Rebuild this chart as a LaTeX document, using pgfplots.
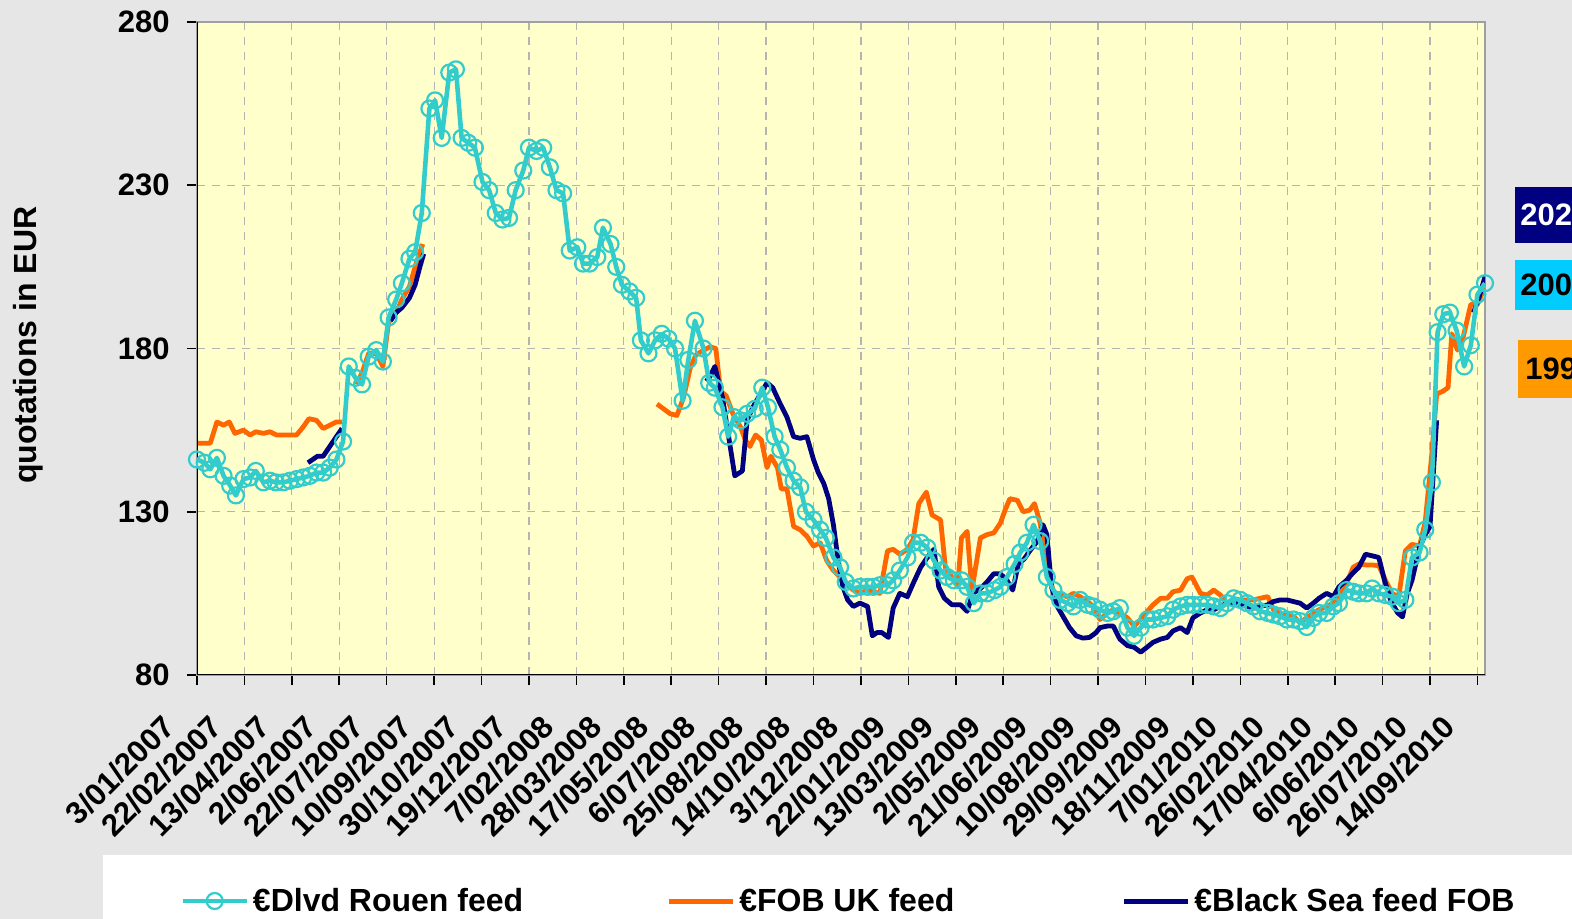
\documentclass[border=0pt]{standalone}
\usepackage{fontspec}
\setmainfont{Liberation Sans}
\usepackage{pgfplots}
\pgfplotsset{compat=1.18}

\definecolor{bggrey}{HTML}{E6E6E6}
\definecolor{plotyellow}{HTML}{FFFFCC}
\definecolor{cyanc}{HTML}{33CCCC}
\definecolor{orangec}{HTML}{FF6600}
\definecolor{navyc}{HTML}{000080}
\definecolor{boxcyan}{HTML}{00CCFF}
\definecolor{boxorange}{HTML}{FF9900}
\definecolor{gridgrey}{HTML}{B4B4B4}

\newcommand\lab{\fontsize{15.5}{18}\selectfont\bfseries}

\begin{document}
\begin{tikzpicture}
\path[use as bounding box] (0,0) rectangle (786pt,459.5pt);
\fill[bggrey] (0,0) rectangle (786pt,459.5pt);
% legend panel
\fill[white] (51.5pt,0) rectangle (800pt,32pt);

\begin{axis}[
    at={(98.5pt,122pt)}, anchor=south west,
    scale only axis, width=644pt, height=326.5pt,
    xmin=0, xmax=1358, ymin=80, ymax=280,
    axis background/.style={fill=plotyellow},
    axis line style={draw=gray!75, line width=1pt},
    xtick={0,50,...,1350},
    xticklabels={3/01/2007,22/02/2007,13/04/2007,2/06/2007,22/07/2007,10/09/2007,30/10/2007,19/12/2007,7/02/2008,28/03/2008,17/05/2008,6/07/2008,25/08/2008,14/10/2008,3/12/2008,22/01/2009,13/03/2009,2/05/2009,21/06/2009,10/08/2009,29/09/2009,18/11/2009,7/01/2010,26/02/2010,17/04/2010,6/06/2010,26/07/2010,14/09/2010},
    ytick={80,130,180,230,280},
    xtick pos=bottom, ytick pos=left,
    tick align=outside, major tick length=5pt,
    tick style={black, line width=0.8pt},
    grid=major,
    major grid style={gridgrey, line width=0.6pt, dash pattern=on 4pt off 3.5pt},
    /pgf/number format/assume math mode=true,
    yticklabel style={font=\lab, inner sep=0pt, anchor=east, xshift=-8.5pt},
    xticklabel style={font=\lab, inner sep=0pt, xshift=-14pt, yshift=-18pt, rotate=45, anchor=east},
    ylabel={quotations in EUR},
    ylabel style={font=\fontsize{16}{19}\selectfont\bfseries, at={(axis description cs:-0.1312,0.505)}, anchor=center},
    unbounded coords=jump,
    legend columns=3,
    legend style={at={(axis description cs:-0.0132,-0.3461)}, anchor=west, draw=none, fill=none,
        inner sep=0pt, font=\fontsize{16}{19}\selectfont\bfseries,
        /tikz/column 2/.append style={column sep=69.5pt},
        /tikz/column 4/.append style={column sep=81.5pt}},
    legend image code/.code={\draw[mark repeat=2,mark phase=2,#1] plot coordinates {(0pt,0pt) (16pt,0pt) (32pt,0pt)};},
  ]

  \addlegendimage{cyanc, line width=2.3pt, mark=o, mark size=4pt, mark options={solid, line width=1.1pt}}
  \addlegendentry{€Dlvd Rouen feed}
  \addlegendimage{orangec, line width=2.5pt}
  \addlegendentry{€FOB UK feed}
  \addlegendimage{navyc, line width=2.5pt}
  \addlegendentry{€Black Sea feed FOB}

  % FOB UK feed
  \addplot[orangec, line width=2.4pt, line join=round, forget plot] coordinates {
(0,151)(8,151)(14,151)(21,157.5)(28,156.5)(34,157.5)(40,154)(49,155)(56,153.5)(62,154.5)(70,154)(77,154.5)(84,153.5)(91,153.5)(98,153.5)(105,153.5)(112,156)(118,158.5)(126,158)(133,155.5)(140,156.5)(147,157.5)(153,157.5)(160,nan)
(168,169)(174,172.5)(181,178.5)(189,178.5)(196,174.5)(202,188)(210,191)(216,195)(224,199)(231,206)(238,212)(245,nan)
(485,163)(492,161.5)(499,160)(506,159.5)(513,165)(520,174)(526,178)(534,179.5)(541,180.5)(547,180)(552,167)(558,165.5)(565,160)(573,156)(578,152)(583,150)(589,153.5)(595,152)(601,143.5)(605,147)(612,143.5)(616,137)(622,137)(629,125.5)(636,124.5)(643,122.5)(650,119.5)(657,120.5)(664,115)(671,112)(678,110)(686,107.5)(692,106)(699,105)(707,106)(713,105.5)(720,105)(728,118)(734,118.5)(741,117)(749,118.5)(755,121.5)(761,132.5)(769,136)(775,129)(784,127.5)(789,113)(798,109)(802,107)(806,122)(812,124)(817,106)(826,122)(833,123)(840,123.5)(847,126.5)(852,130.5)(857,134)(865,133.5)(871,130)(878,130.5)(883,132.5)(889,126.5)(896,113)(903,105.5)(910,104.5)(918,104)(924,105)(931,104)(939,102.5)(945,101)(952,97)(960,99)(966,100)(973,99)(981,97.5)(988,95)(995,97)(1002,99.5)(1008,101.5)(1016,103.5)(1023,103.5)(1029,105.5)(1037,106)(1044,109.5)(1049,110)(1058,105)(1065,104.5)(1072,106)(1079,104.5)(1086,102)(1093,102.5)(1100,103)(1107,103)(1114,103)(1121,103.5)(1129,104)(1135,100)(1142,99)(1149,98)(1156,98)(1163,96)(1170,97.5)(1177,99)(1183,100)(1191,101)(1198,102)(1204,104)(1212,108)(1219,113)(1225,114)(1233,113.7)(1239,113.7)(1246,113.5)(1253,109)(1260,105)(1267,104)(1274,118)(1281,120)(1289,119.5)(1295,127)(1302,148)(1307,166)(1314,167)(1319,168)(1323,184.5)(1329,179.5)(1335,183.5)(1343,193.5)(1350,193.5)(1358,199)
  };

  % Black Sea feed FOB
  \addplot[navyc, line width=2.4pt, line join=round, forget plot] coordinates {
(117,145)(122,146)(127,147)(133,147)(140,150)(147,153)(153,155.5)(160,nan)
(204,188.5)(210,191)(216,192.5)(224,195.5)(230,199.5)(235,205)(239,209)(245,nan)
(537,170)(541,171.5)(546,174.5)(554,165)(560,154)(567,141)(575,142.5)(580,158)(586,162)(594,166)(601,169.5)(607,168)(615,163)(622,159)(629,153)(636,152.5)(643,153)(650,146)(655,142)(661,138.5)(666,134)(671,126)(676,115)(681,107)(686,103)(692,101)(699,102)(707,101)(712,92)(717,93)(722,93)(729,91.5)(734,100.5)(741,105)(749,104)(755,108)(763,113)(770,116)(777,118.5)(782,107)(788,103.5)(796,101.5)(805,101.5)(812,99.5)(818,105)(826,106.5)(833,108.5)(840,111)(847,111)(854,109)(860,106)(866,114)(872,115.5)(878,118)(886,121)(892,126)(896,123)(901,107)(907,101)(913,98)(920,94.5)(927,92)(934,91.3)(941,91.5)(948,93)(952,94.5)(960,95)(966,95)(973,91)(981,89)(988,88.5)(995,87)(1002,88.6)(1008,90)(1016,91)(1023,91.5)(1029,93.5)(1037,94.5)(1044,93)(1050,97.5)(1058,99)(1065,100)(1072,100)(1079,101)(1086,102)(1093,102)(1100,101.5)(1107,101)(1114,100.5)(1121,101)(1129,101.5)(1135,102.5)(1142,103)(1149,103)(1156,102.5)(1163,102)(1170,100.5)(1177,102)(1183,103.5)(1191,105)(1198,104)(1204,107)(1212,109)(1218,111)(1225,113)(1232,117)(1239,116.5)(1246,116)(1252,109)(1259,102.5)(1266,99)(1271,97.8)(1276,105)(1281,109)(1289,119)(1294,122.5)(1300,125.5)(1307,158)(1312,nan)
(1346,191)(1352,196)(1358,202)
  };

  % Dlvd Rouen feed
  \addplot[cyanc, line width=2.3pt, line join=round, mark=o, mark size=4pt, mark options={solid, line width=1.1pt}, forget plot] coordinates {
(0,146)(8,145)(14,143)(21,146.5)(28,141)(35,138)(41,135)(49,140)(56,140.5)(62,142.5)(70,139)(77,139.5)(83,139)(91,139)(98,139.5)(105,140)(112,140.5)(119,141)(126,142)(133,142)(140,143.5)(147,146)(154,151.5)(160,174.5)(167,171)(174,169)(181,177.5)(189,179.5)(196,176)(202,189.5)(210,195)(216,200)(224,207.5)(230,209.5)(237,221.5)(245,253.5)(251,256)(258,244.5)(266,264.5)(273,265.5)(279,244.5)(286,243)(293,241.5)(301,231)(308,228.5)(315,221.5)(322,219.5)(329,220)(336,228.5)(344,234.5)(350,241.5)(358,240.5)(365,241.5)(372,235.5)(379,228.5)(386,227.5)(393,210)(401,211)(407,206)(414,206)(422,208)(428,217)(436,212)(442,205)(448,199.5)(456,197.5)(463,195.5)(468,182.5)(476,178.5)(483,182.5)(490,184.5)(497,183)(504,180)(512,164)(518,176.5)(525,188.5)(534,180)(540,169.5)(546,168)(554,162)(560,153)(566,159)(573,158)(580,160)(588,161.5)(596,168)(602,162)(609,153)(615,149)(622,143.5)(629,139.5)(636,137.5)(642,130)(650,127.5)(657,124.5)(663,122)(671,116)(678,113)(684,108.5)(692,106.5)(699,107)(707,107)(713,107)(720,107.5)(728,107.5)(734,109)(741,112)(749,116)(755,120.5)(763,120.5)(770,119)(777,115)(784,112)(791,110)(798,109)(806,109)(812,107)(819,102)(826,105)(833,105)(841,106)(847,107)(854,110)(862,114)(868,117.5)(875,120.5)(882,126)(889,121)(896,110)(903,106)(910,103)(918,102)(924,101)(931,103)(939,101.5)(945,101)(952,100)(960,99)(966,99.5)(973,100.5)(981,94.5)(988,92)(995,94.5)(1002,97)(1008,97)(1016,97.5)(1023,98)(1029,100)(1037,101)(1044,101.5)(1050,101.5)(1058,101.5)(1065,101.5)(1072,101)(1079,100.5)(1086,102)(1093,103.5)(1100,103)(1107,102)(1114,101)(1121,99.5)(1129,99)(1135,98.5)(1142,98)(1149,97)(1156,97)(1163,96.5)(1170,94.7)(1177,97.5)(1183,99)(1191,99)(1198,101)(1204,102)(1212,106)(1219,105.5)(1225,105)(1233,105)(1239,106.5)(1246,105)(1253,104.5)(1260,104)(1267,102)(1274,103)(1281,116)(1289,117.5)(1295,124.5)(1302,139)(1308,185)(1314,190.5)(1321,191)(1328,185.5)(1336,174.5)(1343,181)(1350,196.5)(1358,200)
  };

  \draw[black, line width=0.8pt] (rel axis cs:0,1) -- (rel axis cs:0,0) -- (rel axis cs:1,0);
\end{axis}

% latest values, cut off by the page edge as in the original
\node[fill=navyc, text=white, anchor=south west, inner xsep=2.5pt, inner ysep=0pt, minimum height=28pt, text width=40pt, align=left, font=\lab] at (757.5pt,338pt) {202};
\node[fill=boxcyan, text=black, anchor=south west, inner xsep=2.5pt, inner ysep=0pt, minimum height=25pt, text width=40pt, align=left, font=\lab] at (757.5pt,304.5pt) {200};
\node[fill=boxorange, text=black, anchor=south west, inner xsep=3.5pt, inner ysep=0pt, minimum height=29pt, text width=40pt, align=left, font=\lab] at (759pt,260.5pt) {199};
\end{tikzpicture}
\end{document}
